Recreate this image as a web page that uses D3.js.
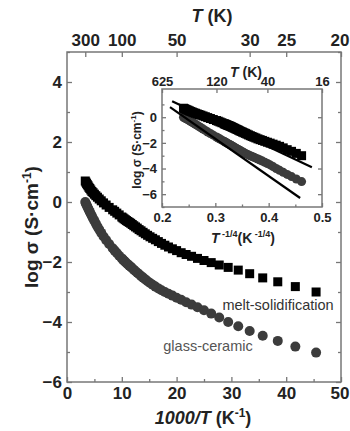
<!DOCTYPE html>
<head>
    <meta charset="utf-8">
    <title>log sigma vs 1000/T</title>
    <style>
        body { margin: 0; background: #fff; }
        svg { display: block; font-family: "Liberation Sans", Arial, sans-serif; }
        .tick text { font-weight: bold; fill: #222; }
        .tick line { stroke: #777; stroke-width: 1.3px; }
        .frame { fill: none; stroke: #777; stroke-width: 1.5px; }
        .title { font-weight: bold; fill: #222; }
    </style>
</head>
<body>
<svg width="350" height="431"></svg>
<script src="https://d3js.org/d3.v7.min.js"></script>
<script>

// measurement temperatures (K)
var temps = [300, 290, 280, 270, 260, 250, 240, 230, 220, 210, 200, 190, 180, 170, 160, 150, 140, 130,
             120, 115, 110, 105,
             100, 98, 96, 94, 92, 90, 88, 86, 84, 82, 80, 78, 76, 74, 72, 70, 68, 66, 64, 62,
             60, 58, 56, 54, 52, 50, 48, 46, 44, 42, 40, 38, 36, 34, 32, 30, 28, 26, 24, 22];

// log sigma (S/cm), melt-solidification sample
var meltLogS = [0.70, 0.66, 0.62, 0.58, 0.54, 0.49, 0.45, 0.40, 0.35, 0.31, 0.26, 0.21, 0.16, 0.10, 0.04, -0.03, -0.10, -0.18,
                -0.26, -0.31, -0.37, -0.43,
                -0.50, -0.53, -0.56, -0.59, -0.62, -0.65, -0.68, -0.71, -0.75, -0.79, -0.83, -0.87, -0.92, -0.96, -1.01, -1.06, -1.11, -1.16, -1.21, -1.26,
                -1.32, -1.38, -1.44, -1.50, -1.56, -1.62, -1.69, -1.75, -1.81, -1.88, -1.95, -2.02, -2.10, -2.18, -2.27, -2.39, -2.53, -2.66, -2.82, -3.00];

// log sigma (S/cm), glass-ceramic sample
var glassLogS = [0.00, -0.05, -0.10, -0.15, -0.21, -0.27, -0.33, -0.40, -0.47, -0.55, -0.63, -0.72, -0.82, -0.92, -1.03, -1.15, -1.27, -1.40,
                 -1.54, -1.62, -1.70, -1.79,
                 -1.88, -1.92, -1.96, -2.00, -2.04, -2.08, -2.12, -2.16, -2.21, -2.26, -2.31, -2.36, -2.41, -2.47, -2.52, -2.58, -2.64, -2.70, -2.76, -2.82,
                 -2.88, -2.94, -3.00, -3.06, -3.12, -3.19, -3.26, -3.34, -3.42, -3.51, -3.61, -3.72, -3.85, -4.00, -4.14, -4.30, -4.46, -4.63, -4.82, -5.02];

// straight VRH fits in the inset: [T^-1/4, log sigma]
var fitMelt = [[0.219, 1.25], [0.481, -3.9]];
var fitGlass = [[0.215, 0.78], [0.459, -6.3]];

var xTicks = [0, 10, 20, 30, 40, 50];
var xMinor = [5, 15, 25, 35, 45];
var yTicks = [-6, -4, -2, 0, 2, 4];
var yMinor = [-5, -3, -1, 1, 3, 5];
var topTemps = [300, 100, 50, 30, 25, 20];
var insetXTicks = [0.2, 0.3, 0.4, 0.5];
var insetXMinor = [0.25, 0.35, 0.45];
var insetYTicks = [-6, -4, -2, 0];
var insetYMinor = [-7, -5, -3, -1, 1];
var insetTopTemps = [625, 120, 40, 16];

var svg = d3.select("svg");

// ---------- main plot ----------
var x = d3.scaleLinear().domain([0, 50]).range([67, 341]);
var y = d3.scaleLinear().domain([-6, 5]).range([382, 52]);

var main = svg.append("g");

function lastNudge(g) {
    // keep the right-most label inside the window
    g.selectAll(".tick:last-of-type text").attr("dx", -1.5);
}

main.append("g").attr("transform", "translate(0,382)")
    .call(d3.axisBottom(x).tickValues(xTicks).tickSize(-5).tickPadding(5).tickFormat(d3.format("d")))
    .call(function(g) { g.select(".domain").remove(); g.selectAll("text").style("font-size", "17px"); lastNudge(g); });
main.append("g").attr("transform", "translate(0,382)")
    .call(d3.axisBottom(x).tickValues(xMinor).tickSize(-3).tickFormat(""))
    .call(function(g) { g.select(".domain").remove(); });

main.append("g").attr("transform", "translate(0,52)")
    .call(d3.axisTop(x).tickValues(topTemps.map(function(t) { return 1000 / t; })).tickSize(-5).tickPadding(6)
        .tickFormat(function(d) { return Math.round(1000 / d); }))
    .call(function(g) { g.select(".domain").remove(); g.selectAll("text").style("font-size", "17px"); lastNudge(g); });

main.append("g").attr("transform", "translate(67,0)")
    .call(d3.axisLeft(y).tickValues(yTicks).tickSize(-5).tickPadding(5))
    .call(function(g) { g.select(".domain").remove(); g.selectAll("text").style("font-size", "17px"); });
main.append("g").attr("transform", "translate(67,0)")
    .call(d3.axisLeft(y).tickValues(yMinor).tickSize(-3).tickFormat(""))
    .call(function(g) { g.select(".domain").remove(); });
main.append("g").attr("transform", "translate(341,0)")
    .call(d3.axisRight(y).tickValues(yTicks).tickSize(-5).tickFormat(""))
    .call(function(g) { g.select(".domain").remove(); });
main.append("g").attr("transform", "translate(341,0)")
    .call(d3.axisRight(y).tickValues(yMinor).tickSize(-3).tickFormat(""))
    .call(function(g) { g.select(".domain").remove(); });

main.append("rect").attr("class", "frame")
    .attr("x", x(0)).attr("y", y(5)).attr("width", x(50) - x(0)).attr("height", y(-6) - y(5));

// data
main.append("g").selectAll("circle")
    .data(temps)
    .join("circle")
    .attr("cx", function(t) { return x(1000 / t); })
    .attr("cy", function(t, i) { return y(glassLogS[i]); })
    .attr("r", 5)
    .attr("fill", "#3c3c3c");

main.append("g").selectAll("rect")
    .data(temps)
    .join("rect")
    .attr("x", function(t) { return x(1000 / t) - 4.5; })
    .attr("y", function(t, i) { return y(meltLogS[i]) - 4.5; })
    .attr("width", 9).attr("height", 9)
    .attr("fill", "#000");

// labels
main.append("text").attr("x", 278).attr("y", 310).attr("text-anchor", "middle")
    .style("font-size", "14.5px").style("fill", "#333").text("melt-solidification");
main.append("text").attr("x", 208).attr("y", 351).attr("text-anchor", "middle")
    .style("font-size", "14.5px").style("fill", "#555").text("glass-ceramic");

var xl = main.append("text").attr("class", "title").attr("x", 203).attr("y", 424)
    .attr("text-anchor", "middle").style("font-size", "18px");
xl.append("tspan").style("font-style", "italic").text("1000/T");
xl.append("tspan").text(" (K");
xl.append("tspan").attr("dy", -7).style("font-size", "12px").text("-1");
xl.append("tspan").attr("dy", 7).text(")");

var tl = main.append("text").attr("class", "title").attr("x", 212).attr("y", 22)
    .attr("text-anchor", "middle").style("font-size", "18px");
tl.append("tspan").style("font-style", "italic").text("T");
tl.append("tspan").text(" (K)");

var yl = main.append("text").attr("class", "title")
    .attr("transform", "translate(38,227) rotate(-90)")
    .attr("text-anchor", "middle").style("font-size", "19px");
yl.append("tspan").text("log σ (S·cm");
yl.append("tspan").attr("dy", -7).style("font-size", "12px").text("-1");
yl.append("tspan").attr("dy", 7).text(")");

// ---------- inset ----------
var ix = d3.scaleLinear().domain([0.2, 0.5]).range([162, 322]);
var iy = d3.scaleLinear().domain([-7, 2.2]).range([207, 89]);

var inset = svg.append("g");

inset.append("rect").attr("x", ix(0.2)).attr("y", iy(2.2))
    .attr("width", ix(0.5) - ix(0.2)).attr("height", iy(-7) - iy(2.2)).attr("fill", "#fff");

inset.append("g").attr("transform", "translate(0,207)")
    .call(d3.axisBottom(ix).tickValues(insetXTicks).tickSize(-4).tickPadding(6).tickFormat(d3.format(".1f")))
    .call(function(g) { g.select(".domain").remove(); g.selectAll("text").style("font-size", "13px"); });
inset.append("g").attr("transform", "translate(0,207)")
    .call(d3.axisBottom(ix).tickValues(insetXMinor).tickSize(-2.5).tickFormat(""))
    .call(function(g) { g.select(".domain").remove(); });
inset.append("g").attr("transform", "translate(0,89)")
    .call(d3.axisTop(ix).tickValues(insetTopTemps.map(function(t) { return Math.pow(t, -0.25); }))
        .tickSize(-4).tickPadding(3).tickFormat(function(d) { return Math.round(Math.pow(d, -4)); }))
    .call(function(g) { g.select(".domain").remove(); g.selectAll("text").style("font-size", "13px"); });
inset.append("g").attr("transform", "translate(162,0)")
    .call(d3.axisLeft(iy).tickValues(insetYTicks).tickSize(-4).tickPadding(5))
    .call(function(g) { g.select(".domain").remove(); g.selectAll("text").style("font-size", "13px"); });
inset.append("g").attr("transform", "translate(162,0)")
    .call(d3.axisLeft(iy).tickValues(insetYMinor).tickSize(-2.5).tickFormat(""))
    .call(function(g) { g.select(".domain").remove(); });
inset.append("g").attr("transform", "translate(322,0)")
    .call(d3.axisRight(iy).tickValues(insetYTicks).tickSize(-4).tickFormat(""))
    .call(function(g) { g.select(".domain").remove(); });

inset.append("g").selectAll("circle")
    .data(temps)
    .join("circle")
    .attr("cx", function(t) { return ix(Math.pow(t, -0.25)); })
    .attr("cy", function(t, i) { return iy(glassLogS[i]); })
    .attr("r", 4.5)
    .attr("fill", "#3c3c3c");

inset.append("g").selectAll("rect")
    .data(temps)
    .join("rect")
    .attr("x", function(t) { return ix(Math.pow(t, -0.25)) - 4.5; })
    .attr("y", function(t, i) { return iy(meltLogS[i]) - 4.5; })
    .attr("width", 9).attr("height", 9)
    .attr("fill", "#000");

var fitLine = d3.line().x(function(d) { return ix(d[0]); }).y(function(d) { return iy(d[1]); });
inset.selectAll("path.fit")
    .data([fitMelt, fitGlass])
    .join("path")
    .attr("class", "fit")
    .attr("d", fitLine)
    .attr("fill", "none").attr("stroke", "#000").attr("stroke-width", 2.2);

inset.append("rect").attr("class", "frame").attr("x", ix(0.2)).attr("y", iy(2.2))
    .attr("width", ix(0.5) - ix(0.2)).attr("height", iy(-7) - iy(2.2));

var itl = inset.append("text").attr("class", "title").attr("x", 246).attr("y", 77)
    .attr("text-anchor", "middle").style("font-size", "14px");
itl.append("tspan").style("font-style", "italic").text("T");
itl.append("tspan").text(" (K)");

var ixl = inset.append("text").attr("class", "title").attr("x", 243).attr("y", 243)
    .attr("text-anchor", "middle").style("font-size", "14px");
ixl.append("tspan").style("font-style", "italic").text("T");
ixl.append("tspan").attr("dy", -6).style("font-size", "9px").text(" -1/4");
ixl.append("tspan").attr("dy", 6).text("(K");
ixl.append("tspan").attr("dy", -6).style("font-size", "9px").text(" -1/4");
ixl.append("tspan").attr("dy", 6).text(")");

var iyl = inset.append("text").attr("class", "title")
    .attr("transform", "translate(141,150) rotate(-90)")
    .attr("text-anchor", "middle").style("font-size", "12px");
iyl.append("tspan").text("log σ (S·cm");
iyl.append("tspan").attr("dy", -5).style("font-size", "8px").text("-1");
iyl.append("tspan").attr("dy", 5).text(")");

</script>
</body>
</html>
